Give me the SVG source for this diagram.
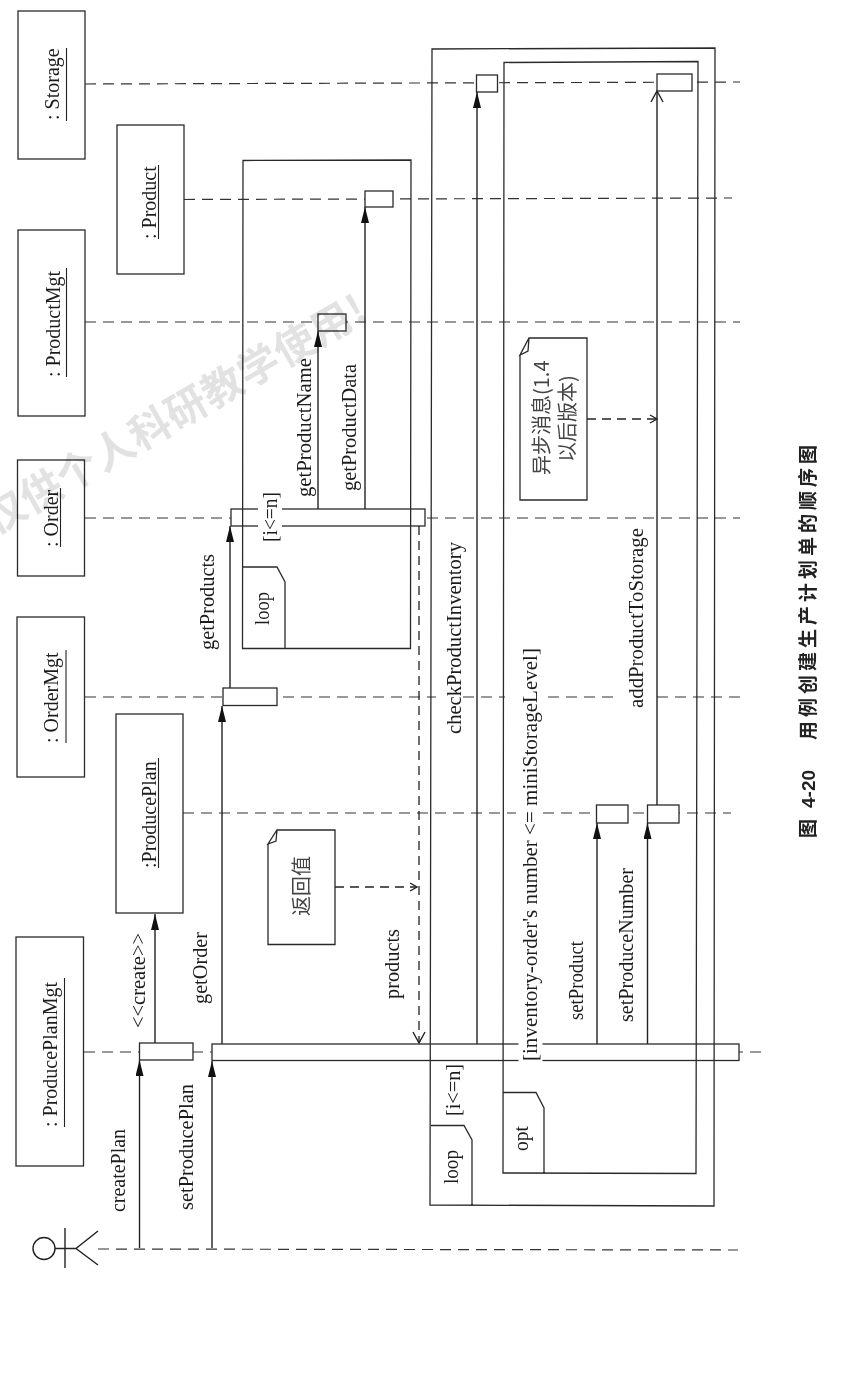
<svg xmlns="http://www.w3.org/2000/svg" width="845" height="1386" viewBox="0 0 845 1386">
<style>
text{font-family:"Liberation Serif","Noto Sans CJK SC",serif;fill:#1c1c1c}
.t{font-size:20px}
.c{font-size:20px;font-family:"Noto Sans CJK SC","Liberation Sans",sans-serif;fill:#444}
.cap{font-size:19px;font-weight:700;font-family:"Noto Sans CJK SC","Liberation Sans",sans-serif;fill:#222}
.wm{font-size:41px;font-weight:700;font-family:"Noto Sans CJK SC","Liberation Sans",sans-serif;fill:#e2e2e2;letter-spacing:0.8px;mix-blend-mode:multiply}
.box,.bar,.note{fill:#fff;stroke:#2a2a2a;stroke-width:1.3}
.frame{fill:none;stroke:#2a2a2a;stroke-width:1.3}
.life{fill:none;stroke:#333;stroke-width:1.2;stroke-dasharray:11 7}
.msg{fill:none;stroke:#222;stroke-width:1.4}
.u{stroke:#222;stroke-width:1.1;fill:none}
.dash{fill:none;stroke:#222;stroke-width:1.3;stroke-dasharray:9 6}
</style>
<defs>
<marker id="fill" markerUnits="userSpaceOnUse" markerWidth="18" markerHeight="10" refX="16" refY="4" orient="auto"><path d="M0 0L16 4L0 8Z" fill="#111"/></marker>
<marker id="open" markerUnits="userSpaceOnUse" markerWidth="14" markerHeight="14" refX="12" refY="7" orient="auto"><path d="M1 1L12 7L1 13" fill="none" stroke="#222" stroke-width="1.4"/></marker>
<marker id="small" markerUnits="userSpaceOnUse" markerWidth="9" markerHeight="10" refX="8" refY="5" orient="auto"><path d="M1 1L8 5L1 9" fill="none" stroke="#222" stroke-width="1.3"/></marker>
</defs>
<rect width="845" height="1386" fill="#fff"/>
<g id="connectors">
<path class="life" d="M85 84L740 82"/>
<path class="life" d="M184 199.500L732 198"/>
<path class="life" d="M85 322H740"/>
<path class="life" d="M85 518H740"/>
<path class="life" d="M85 697H436M463 697H505M548 697H617M657 697H740"/>
<path class="life" d="M183 813H516M543 813H731"/>
<path class="life" d="M84 1052H766"/>
<path class="life" d="M98 1249L738 1250"/>
<path class="msg" marker-end="url(#fill)" d="M139.500 1248V1060"/>
<path class="msg" marker-end="url(#fill)" d="M212 1248V1061"/>
<path class="msg" marker-end="url(#fill)" d="M155 1043V914"/>
<path class="msg" marker-end="url(#fill)" d="M222 1044V706"/>
<path class="msg" marker-end="url(#fill)" d="M230 688V526"/>
<path class="msg" marker-end="url(#fill)" d="M318 509V331"/>
<path class="msg" marker-end="url(#fill)" d="M365 509V207"/>
<path class="msg" marker-end="url(#fill)" d="M477 1044V92"/>
<path class="msg" marker-end="url(#fill)" d="M597 1044V823"/>
<path class="msg" marker-end="url(#fill)" d="M647.500 1044V823"/>
<path class="msg" marker-end="url(#open)" d="M657 805V91"/>
<path class="dash" marker-end="url(#open)" d="M419 526V1043"/>
<path class="dash" marker-end="url(#small)" d="M335 887H417"/>
<path class="dash" marker-end="url(#small)" d="M587 419H657"/>
</g>
<g id="actor" class="msg"><circle cx="44" cy="1248.500" r="11"/><path d="M55 1248.500H76M65 1228V1268M98 1231L76 1248.500L98 1265"/></g>
<g id="node-storage"><rect class="box" x="18" y="11" width="67" height="148"/><text class="t" transform="translate(59 120) rotate(-90)">: Storage</text><path class="u" d="M66.500 121V48"/></g>
<g id="node-product"><rect class="box" x="117" y="125" width="67" height="149"/><text class="t" transform="translate(155.500 239) rotate(-90)">: Product</text><path class="u" d="M158.500 239V165"/></g>
<g id="node-productmgt"><rect class="box" x="18" y="230" width="67" height="186"/><text class="t" transform="translate(59.500 377) rotate(-90)">: ProductMgt</text><path class="u" d="M66.500 377V268"/></g>
<g id="node-order"><rect class="box" x="17.500" y="460" width="67" height="116"/><text class="t" transform="translate(57.500 547) rotate(-90)">: Order</text><path class="u" d="M60.500 547V488"/></g>
<g id="node-ordermgt"><rect class="box" x="17" y="617" width="67.500" height="160"/><text class="t" transform="translate(58 743) rotate(-90)">: OrderMgt</text><path class="u" d="M66 743V650"/></g>
<g id="node-produceplan"><rect class="box" x="116" y="714" width="67" height="199"/><text class="t" transform="translate(156 868) rotate(-90)">:ProducePlan</text><path class="u" d="M158.500 868V758"/></g>
<g id="node-produceplanmgt"><rect class="box" x="16" y="937" width="67.500" height="229"/><text class="t" transform="translate(57 1127) rotate(-90)">: ProducePlanMgt</text><path class="u" d="M64.500 1127V978"/></g>
<g id="activations">
<rect class="bar" x="139.500" y="1043" width="53.500" height="17"/>
<rect class="bar" x="212" y="1044" width="527" height="16.500"/>
<rect class="bar" x="223" y="688" width="54" height="17.500"/>
<rect class="bar" x="231" y="509" width="194" height="17"/>
<rect class="bar" x="318" y="314" width="28" height="17"/>
<rect class="bar" x="365" y="191" width="28" height="16"/>
<rect class="bar" x="476.500" y="75" width="21" height="17"/>
<rect class="bar" x="657" y="74" width="35" height="17"/>
<rect class="bar" x="596.500" y="805" width="31.500" height="18"/>
<rect class="bar" x="647.500" y="805" width="31.500" height="18"/>
</g>
<g id="frame-loop-inner"><path class="frame" d="M243 160.500L411 160L410.500 648.500L242.500 648.500ZM243 567H277L285 582V648.500"/></g>
<g id="frame-loop-outer"><path class="frame" d="M432 49L715 48L714 1206L430 1205ZM431 1125.500H464L472 1140V1205.500"/></g>
<g id="frame-opt"><path class="frame" d="M504 62.500L698 61.500L696 1173.500L503 1173ZM503 1092.500H536L544 1108V1173"/></g>
<rect x="258" y="505" width="24" height="25" fill="#fff"/>
<rect x="518.500" y="1040" width="24" height="24" fill="#fff"/>
<g id="labels">
<text class="t" lengthAdjust="spacingAndGlyphs" textLength="83" transform="translate(125 1212) rotate(-90)">createPlan</text>
<text class="t" lengthAdjust="spacingAndGlyphs" textLength="126" transform="translate(192.500 1210) rotate(-90)">setProducePlan</text>
<text class="t" lengthAdjust="spacingAndGlyphs" textLength="95" transform="translate(145 1028) rotate(-90)">&lt;&lt;create&gt;&gt;</text>
<text class="t" lengthAdjust="spacingAndGlyphs" textLength="72" transform="translate(206.500 1004) rotate(-90)">getOrder</text>
<text class="t" lengthAdjust="spacingAndGlyphs" textLength="96" transform="translate(214 650) rotate(-90)">getProducts</text>
<text class="t" lengthAdjust="spacingAndGlyphs" textLength="70" transform="translate(399 999) rotate(-90)">products</text>
<text class="t" lengthAdjust="spacingAndGlyphs" textLength="139" transform="translate(310.500 497) rotate(-90)">getProductName</text>
<text class="t" lengthAdjust="spacingAndGlyphs" textLength="127" transform="translate(356 491) rotate(-90)">getProductData</text>
<text class="t" lengthAdjust="spacingAndGlyphs" textLength="50" transform="translate(277 542) rotate(-90)">[i&lt;=n]</text>
<text class="t" lengthAdjust="spacingAndGlyphs" textLength="33" transform="translate(268.500 625) rotate(-90)">loop</text>
<text class="t" lengthAdjust="spacingAndGlyphs" textLength="34" transform="translate(458 1184) rotate(-90)">loop</text>
<text class="t" lengthAdjust="spacingAndGlyphs" textLength="52" transform="translate(460 1116) rotate(-90)">[i&lt;=n]</text>
<text class="t" lengthAdjust="spacingAndGlyphs" textLength="25" transform="translate(528 1151) rotate(-90)">opt</text>
<text class="t" lengthAdjust="spacingAndGlyphs" textLength="413" transform="translate(537 1061) rotate(-90)">[inventory-order's number &lt;= miniStorageLevel]</text>
<text class="t" lengthAdjust="spacingAndGlyphs" textLength="192" transform="translate(461 734) rotate(-90)">checkProductInventory</text>
<text class="t" lengthAdjust="spacingAndGlyphs" textLength="79" transform="translate(582.500 1020) rotate(-90)">setProduct</text>
<text class="t" lengthAdjust="spacingAndGlyphs" textLength="154" transform="translate(633 1022) rotate(-90)">setProduceNumber</text>
<text class="t" lengthAdjust="spacingAndGlyphs" textLength="180" transform="translate(642.500 708) rotate(-90)">addProductToStorage</text>
</g>
<g id="note-return"><path class="note" d="M277 830H335V944.500H268V844ZM277 830L268 844L276 841Z"/><text class="c" transform="translate(309 916) rotate(-90)">返回值</text></g>
<g id="note-async"><path class="note" d="M529 338H587V500H520V355ZM529 338L520 355L528 351Z"/><text class="c" transform="translate(549 475) rotate(-90)">异步消息(1.4</text><text class="c" transform="translate(575 462) rotate(-90)">以后版本)</text></g>
<g id="caption">
<text class="cap" transform="translate(815 838) rotate(-90)">图</text>
<text class="cap" style="font-family:'Liberation Sans',sans-serif" transform="translate(815 808) rotate(-90)">4-20</text>
<text class="cap" style="letter-spacing:4px" transform="translate(815 740) rotate(-90)">用例创建生产计划单的顺序图</text>
</g>
<text class="wm" transform="translate(5 513) rotate(-30)" x="-20" y="14">仅供个人科研教学使用!</text>
</svg>
